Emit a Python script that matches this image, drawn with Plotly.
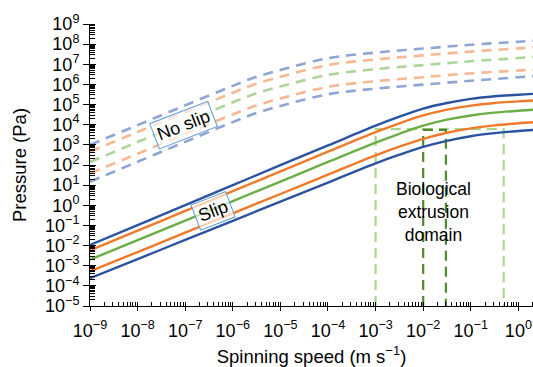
import plotly.graph_objects as go

# ---------------- data (log10 values) ----------------
# spinning speed exponents (m s^-1)
speed_log_slip = [-9, -8, -7, -6, -5, -4, -3, -2.5, -2, -1.5, -1, -0.5, 0, 0.31]
speed_log_noslip = [-9, -8, -7, -6, -5.5, -5, -4, -3, -2, -1, 0, 0.31]

# Slip (solid) pressure exponents (Pa)
slip_blue_hi = [-1.97, -0.98, 0.01, 1.00, 1.99, 2.97, 3.95, 4.40, 4.80, 5.08, 5.28, 5.41, 5.49, 5.53]
slip_orange_hi = [-2.24, -1.26, -0.28, 0.70, 1.68, 2.66, 3.63, 4.07, 4.46, 4.75, 4.95, 5.08, 5.16, 5.20]
slip_green = [-2.70, -1.73, -0.76, 0.21, 1.18, 2.15, 3.11, 3.55, 3.95, 4.25, 4.46, 4.60, 4.69, 4.74]
slip_orange_lo = [-3.28, -2.32, -1.36, -0.40, 0.56, 1.52, 2.48, 2.91, 3.30, 3.60, 3.82, 3.97, 4.07, 4.12]
slip_blue_lo = [-3.62, -2.67, -1.72, -0.77, 0.18, 1.13, 2.08, 2.51, 2.90, 3.20, 3.43, 3.58, 3.69, 3.74]

# No slip (dashed) pressure exponents (Pa)
noslip_blue_hi = [3.00, 3.98, 4.96, 5.93, 6.38, 6.72, 7.30, 7.58, 7.78, 7.97, 8.12, 8.17]
noslip_orange_hi = [2.66, 3.64, 4.62, 5.59, 6.04, 6.38, 6.96, 7.24, 7.44, 7.63, 7.79, 7.84]
noslip_green = [2.15, 3.14, 4.13, 5.11, 5.56, 5.90, 6.47, 6.76, 6.96, 7.15, 7.31, 7.36]
noslip_orange_lo = [1.59, 2.56, 3.54, 4.51, 4.96, 5.30, 5.88, 6.16, 6.36, 6.55, 6.69, 6.73]
noslip_blue_lo = [1.17, 2.16, 3.15, 4.13, 4.58, 4.93, 5.51, 5.79, 5.99, 6.18, 6.36, 6.41]

# Biological extrusion domain boxes (speed m s^-1, pressure Pa)
bio_outer_speed = [1e-3, 1e-3, 0.49, 0.49]
bio_outer_press = [1e-5, 6.0e3, 6.0e3, 1e-5]
bio_inner_speed = [1e-2, 1e-2, 0.03, 0.03]
bio_inner_press = [1e-5, 5.6e3, 5.6e3, 1e-5]

# tick labels
x_tick_exp = list(range(-9, 1))
y_tick_exp = list(range(-5, 10))

# ---------------- styles ----------------
FONT = "Liberation Sans"
C_BLUE = "#2b53a0"
C_ORANGE = "#f07a2a"
C_GREEN = "#6aae45"
C_BLUE_L = "#8ea6d4"
C_ORANGE_L = "#f8b892"
C_GREEN_L = "#acd598"
C_BOX_L = "#a9d68e"
C_BOX_D = "#4d8a2e"

fig = go.Figure()

def pw(v):
    return [10 ** e for e in v]

# dashed no-slip curves
for ys, col in [(noslip_blue_hi, C_BLUE_L), (noslip_orange_hi, C_ORANGE_L),
                (noslip_green, C_GREEN_L), (noslip_orange_lo, C_ORANGE_L),
                (noslip_blue_lo, C_BLUE_L)]:
    fig.add_trace(go.Scatter(x=pw(speed_log_noslip), y=pw(ys), mode="lines",
                             line=dict(color=col, width=2.6, dash="10px,7px", shape="spline", smoothing=1.0),
                             hoverinfo="skip"))

# domain boxes
fig.add_trace(go.Scatter(x=bio_outer_speed, y=bio_outer_press, mode="lines",
                         line=dict(color=C_BOX_L, width=2.2, dash="10px,6px"), hoverinfo="skip"))
fig.add_trace(go.Scatter(x=bio_inner_speed, y=bio_inner_press, mode="lines",
                         line=dict(color=C_BOX_D, width=2.2, dash="10px,6px"), hoverinfo="skip"))

# solid slip curves
for ys, col in [(slip_blue_hi, C_BLUE), (slip_orange_hi, C_ORANGE),
                (slip_green, C_GREEN), (slip_orange_lo, C_ORANGE),
                (slip_blue_lo, C_BLUE)]:
    fig.add_trace(go.Scatter(x=pw(speed_log_slip), y=pw(ys), mode="lines",
                             line=dict(color=col, width=2.4, shape="spline", smoothing=1.0),
                             hoverinfo="skip"))

# dummy trace on overlay axes (for crossing major ticks)
fig.add_trace(go.Scatter(x=[1e-9], y=[1e-5], xaxis="x2", yaxis="y2", mode="markers",
                         marker=dict(opacity=0), hoverinfo="skip"))

def sup_label(e):
    s = str(abs(e))
    sign = "\u2212" if e < 0 else ""
    return f"10<sup>{sign}{s}</sup>"

x_minor = [m * 10 ** e for e in range(-9, 1) for m in range(2, 10)]
y_minor = [m * 10 ** e for e in range(-5, 9) for m in range(2, 10)]

xr = [-9, 0.307]
yr = [-5, 9]
TICK_SIZE = 18
TITLE_SIZE = 18.5

fig.update_layout(
    width=533, height=367,
    margin=dict(l=90, r=0, t=24, b=61),
    paper_bgcolor="white", plot_bgcolor="white",
    showlegend=False,
    font=dict(family=FONT, size=TICK_SIZE, color="black"),
    xaxis=dict(type="log", range=xr, showgrid=False, zeroline=False,
               showline=True, linecolor="black", linewidth=1,
               tickmode="array", tickvals=[10 ** e for e in x_tick_exp],
               ticktext=[sup_label(e) for e in x_tick_exp],
               ticks="outside", ticklen=4, tickwidth=1, tickcolor="black",
               ticklabelstandoff=4,
               tickfont=dict(family=FONT, size=TICK_SIZE),
               minor=dict(tickmode="array", tickvals=x_minor, ticks="inside", ticklen=4,
                          tickwidth=1, tickcolor="black", showgrid=False),
               title=dict(text="Spinning speed (m s<sup>\u22121</sup>)",
                          font=dict(family=FONT, size=TITLE_SIZE), standoff=12)),
    yaxis=dict(type="log", range=yr, showgrid=False, zeroline=False,
               showline=True, linecolor="black", linewidth=1,
               tickmode="array", tickvals=[10 ** e for e in y_tick_exp],
               ticktext=[sup_label(e) for e in y_tick_exp],
               ticks="outside", ticklen=6, tickwidth=1, tickcolor="black",
               tickfont=dict(family=FONT, size=TICK_SIZE),
               minor=dict(tickmode="array", tickvals=y_minor, ticks="inside", ticklen=5,
                          tickwidth=1, tickcolor="black", showgrid=False),
               title=dict(text="Pressure (Pa)", font=dict(family=FONT, size=TITLE_SIZE), standoff=13)),
    xaxis2=dict(type="log", range=xr, overlaying="x", anchor="y2", showgrid=False,
                zeroline=False, showline=False, showticklabels=False,
                tickmode="array", tickvals=[10 ** e for e in x_tick_exp],
                ticks="inside", ticklen=4, tickwidth=1, tickcolor="black"),
    yaxis2=dict(type="log", range=yr, overlaying="y", anchor="x2", showgrid=False,
                zeroline=False, showline=False, showticklabels=False,
                tickmode="array", tickvals=[10 ** e for e in y_tick_exp],
                ticks="inside", ticklen=6, tickwidth=1, tickcolor="black"),
)

fig.add_annotation(x=-7.03, y=3.99, xref="x", yref="y", text="No slip", showarrow=False,
                   textangle=-21, font=dict(family=FONT, size=18, color="black"),
                   bordercolor="#5b9bd5", borderwidth=1, borderpad=3,
                   bgcolor="rgba(255,255,255,0.65)")
fig.add_annotation(x=-6.42, y=-0.27, xref="x", yref="y", text="Slip", showarrow=False,
                   textangle=-21, font=dict(family=FONT, size=18, color="black"),
                   bordercolor="#5b9bd5", borderwidth=1, borderpad=3,
                   bgcolor="rgba(255,255,255,0.65)")
fig.add_annotation(x=-1.79, y=-0.34, xref="x", yref="y",
                   text="Biological<br>extrusion<br>domain", showarrow=False,
                   font=dict(family=FONT, size=17.5, color="black"), align="center")

fig.write_html("out.html")
